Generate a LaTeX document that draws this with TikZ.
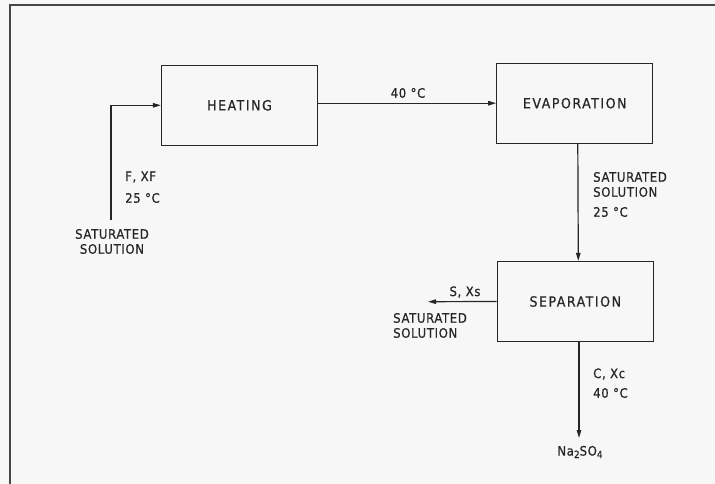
\documentclass[tikz,border=0pt]{standalone}
\usepackage{fontspec}
\setmainfont{DejaVu Sans Condensed}[FakeBold=0.6]
\usetikzlibrary{arrows.meta}
\definecolor{ink}{HTML}{262626}
\tikzset{
  proc/.style={draw=ink, line width=1.3pt, minimum width=156pt, minimum height=80pt, inner sep=0pt,
    font=\fontsize{14}{16}\selectfont\addfontfeature{LetterSpace=11}, text=ink},
  lbl/.style={inner sep=0pt, font=\fontsize{13}{15}\selectfont\addfontfeature{LetterSpace=5}, text=ink},
  flow/.style={draw=ink, line width=1.2pt, -{Triangle[length=8pt,width=4.5pt]}},
  frame/.style={draw=ink!85, line width=1.8pt}
}
\newcommand{\subn}[1]{\raisebox{-2.5pt}{\fontsize{10}{12}\selectfont #1}}
\begin{document}
\begin{tikzpicture}[x=1pt,y=-1pt]
\useasboundingbox (0,0) rectangle (715,484);
\fill[black!3] (0,0) rectangle (715,484);
\draw[frame] (10,486) -- (10,5) -- (717,5);

\node[proc] (heat) at (239.5,105.3) {HEATING};
\node[proc] (evap) at (574.8,103.2) {EVAPORATION};
\node[proc] (sep)  at (575.3,301.5) {SEPARATION};

\coordinate (feed) at (111,220);
\coordinate (sout) at (428,301.7);
\coordinate (cout) at (579,438);

\draw[flow] (feed) |- (heat.west);
\draw[flow] (heat.east |- evap.west) -- (evap.west);
\draw[flow] ([xshift=3pt]evap.south) -- ([xshift=3pt]sep.north);
\draw[flow] (sep.west) -- (sout);
\draw[flow] ([xshift=3.7pt]sep.south) -- (cout);

% feed labels
\node[lbl, anchor=west] (fx) at (125,177) {F, XF};
\node[lbl, anchor=west] (ft) at (125,198) {25 °C};
\node[lbl] (fs1) at (112,234) {SATURATED};
\node[lbl] (fs2) at (112,249) {SOLUTION};

% heating -> evaporation
\node[lbl] (t40) at (408,93) {40 °C};

% evaporation -> separation
\node[lbl, anchor=west] (es1) at (593,177) {SATURATED};
\node[lbl, anchor=west] (es2) at (593,192) {SOLUTION};
\node[lbl, anchor=west] (et)  at (593,212) {25 °C};

% separation side
\node[lbl] (sx) at (465,292) {S, Xs};
\node[lbl, anchor=west] (ss1) at (393,318) {SATURATED};
\node[lbl, anchor=west] (ss2) at (393,333) {SOLUTION};

% separation bottom
\node[lbl, anchor=west] (cx) at (593,374) {C, Xc};
\node[lbl, anchor=west] (ct) at (593,393) {40 °C};
\node[lbl] (na) at (580,452) {Na\subn{2}SO\subn{4}};
\end{tikzpicture}
\end{document}
